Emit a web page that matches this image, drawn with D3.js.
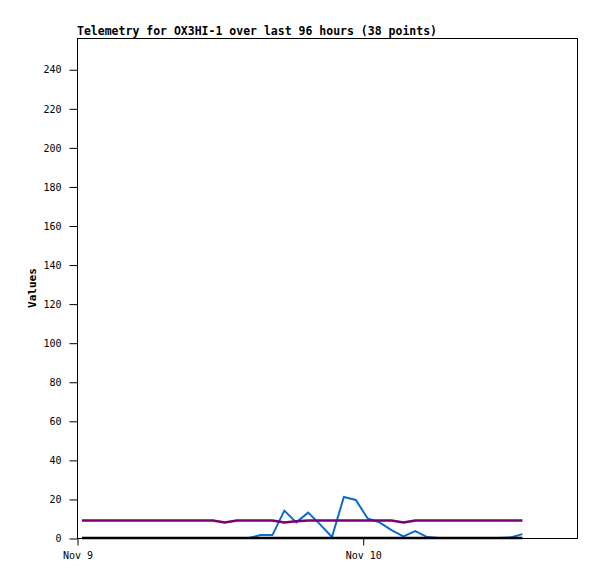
<!DOCTYPE html>
<html>
<head>
<meta charset="utf-8">
<script src="https://cdn.jsdelivr.net/npm/d3@7"></script>
<style>
  body { margin: 0; background: #fff; }
  svg { display: block; }
  .tick text { font-family: "DejaVu Sans Mono", monospace; font-size: 10px; fill: #000; }
</style>
</head>
<body>
<svg id="chart" width="597" height="579"></svg>
<script>
// hourly samples, 38 points
var startTime = new Date(2023, 10, 9, 0, 25);
var blueValues = [0, 0, 0, 0, 0, 0, 0, 0, 0, 0, 0, 0, 0, 0,
  0, 1.5, 1.5, 14, 8, 13, 7, 0.5, 21, 19.5, 10, 8, 4, 0.8, 3.5, 0.5,
  0, 0, 0, 0, 0, 0, 0.3, 2];
var purpleValues = [9, 9, 9, 9, 9, 9, 9, 9, 9, 9, 9, 9, 8, 9,
  9, 9, 9, 8, 8.6, 9, 9, 9, 9, 9, 9, 9, 9, 8, 9, 9,
  9, 9, 9, 9, 9, 9, 9, 9];
var blackValues = [0, 0, 0, 0, 0, 0, 0, 0, 0, 0, 0, 0, 0, 0,
  0, 0, 0, 0, 0, 0, 0, 0, 0, 0, 0, 0, 0, 0, 0, 0,
  0, 0, 0, 0, 0, 0, 0, 0];
var yTicks = [0, 20, 40, 60, 80, 100, 120, 140, 160, 180, 200, 220, 240];
var xDomain = [new Date(2023, 10, 9, 0, 0), new Date(2023, 10, 10, 18, 0)];
var titleText = "Telemetry for OX3HI-1 over last 96 hours (38 points)";

var svg = d3.select("#chart");
var plotLeft = 77, plotRight = 577, plotTop = 38, plotBottom = 538;

var times = blueValues.map(function (d, i) { return d3.timeHour.offset(startTime, i); });

// scales
var x = d3.scaleTime().domain(xDomain).range([plotLeft, plotRight]);
var y = d3.scaleLinear().domain([0, 256]).range([plotBottom, plotTop]);

// frame
svg.append("rect")
  .attr("x", plotLeft + 0.5).attr("y", plotTop + 0.5)
  .attr("width", plotRight - plotLeft).attr("height", plotBottom - plotTop)
  .attr("fill", "none").attr("stroke", "#000").attr("stroke-width", 1);

// axes
var yAxis = d3.axisLeft(y).tickValues(yTicks).tickSize(8).tickPadding(8);
svg.append("g")
  .attr("transform", "translate(" + (plotLeft + 0.5) + ",0.5)")
  .call(yAxis)
  .call(function (g) { g.select(".domain").remove(); });

var xAxis = d3.axisBottom(x)
  .ticks(d3.timeDay.every(1))
  .tickFormat(d3.timeFormat("%b %-d"))
  .tickSize(7).tickPadding(6);
svg.append("g")
  .attr("transform", "translate(0.5," + (plotBottom + 0.5) + ")")
  .call(xAxis)
  .call(function (g) { g.select(".domain").remove(); });

// lines
var line = d3.line()
  .x(function (d, i) { return x(times[i]); })
  .y(function (d) { return y(d); });

svg.append("path").datum(blueValues)
  .attr("d", line).attr("fill", "none")
  .attr("stroke", "#0a6ccf").attr("stroke-width", 2);

svg.append("path").datum(purpleValues)
  .attr("d", line).attr("fill", "none")
  .attr("stroke", "#760077").attr("stroke-width", 2.5);

svg.append("path").datum(blackValues)
  .attr("d", line).attr("fill", "none")
  .attr("stroke", "#000").attr("stroke-width", 2.5);

// title and label
svg.append("text")
  .attr("x", plotLeft).attr("y", 35)
  .attr("font-family", "DejaVu Sans Mono, monospace")
  .attr("font-weight", "bold").attr("font-size", "11.5px")
  .text(titleText);

svg.append("text")
  .attr("transform", "translate(36,288) rotate(-90)")
  .attr("text-anchor", "middle")
  .attr("font-family", "DejaVu Sans Mono, monospace")
  .attr("font-weight", "bold").attr("font-size", "11px")
  .text("Values");
</script>
</body>
</html>
